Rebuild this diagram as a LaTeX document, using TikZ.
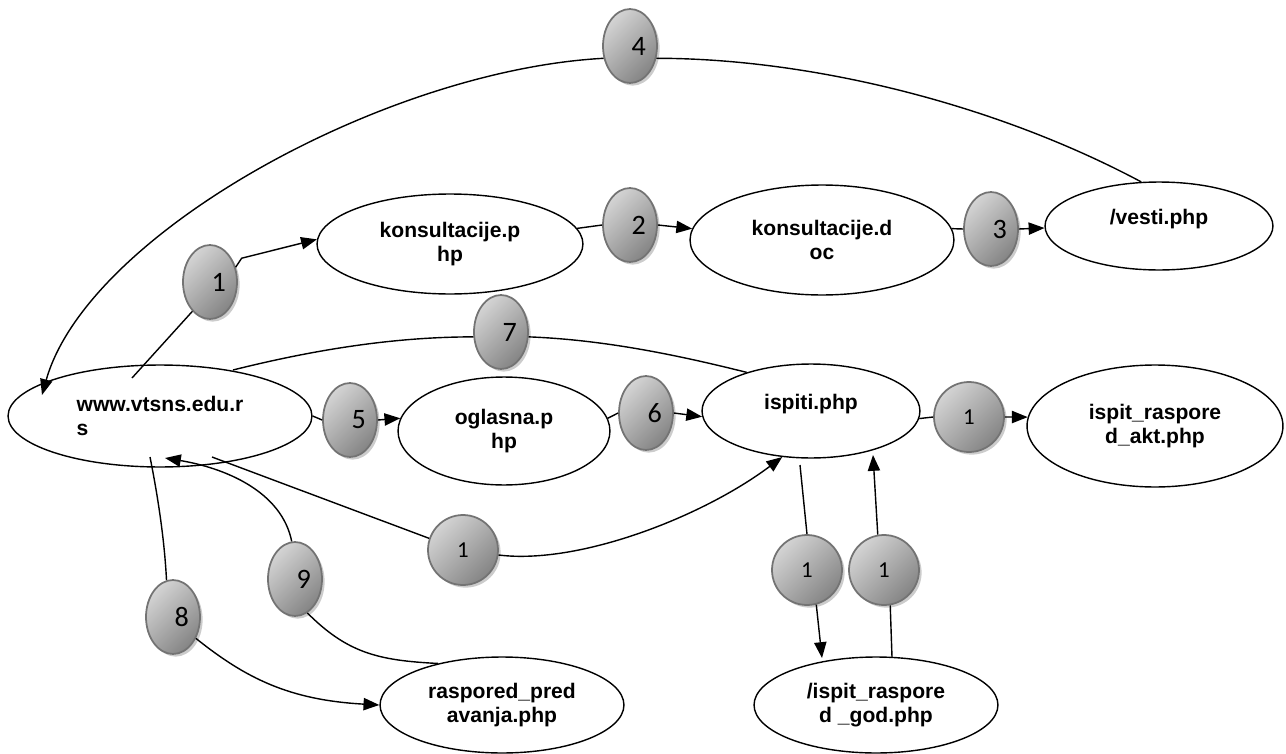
\documentclass[tikz,border=0pt]{standalone}
\usepackage{fontspec}
\setmainfont{Liberation Sans}
\newfontfamily\badgefont{Carlito}
\usetikzlibrary{arrows.meta,shapes.geometric,shadows}

\begin{document}
\begin{tikzpicture}[x=0.02cm, y=-0.02cm, >={Triangle[length=9pt,width=7pt]}, line join=round, line width=0.8pt]
	\tikzset{
		page/.style 2 args={ellipse, draw, inner sep=0pt, minimum width=#1*0.04cm, minimum height=#2*0.04cm, align=center, font=\bfseries\fontsize{12}{14}\selectfont},
		badge/.style={ellipse, draw=black!55, line width=1pt, top color=black!17, bottom color=black!48, shading angle=45, drop shadow={shadow xshift=1.5pt, shadow yshift=-1.5pt, fill=black!20, opacity=1}, inner sep=0pt, minimum width=1.08cm, minimum height=1.48cm, font=\badgefont\fontsize{16}{16}\selectfont},
		roundbadge/.style={badge, circle, minimum size=1.4cm, font=\badgefont\fontsize{13}{13}\selectfont}
	}
	\useasboundingbox (0,0) rectangle (1286,754);
	\node [page={152}{51}, align=left] (www) at (160,416) {www.vtsns.edu.r\\s};
	\node [page={133}{50}] (kphp) at (450,244) {konsultacije.p\\hp};
	\node [page={132}{55}] (kdoc) at (822,240) {konsultacije.d\\oc};
	\node [page={114}{44}, text depth=10pt] (vesti) at (1159,226) {/vesti.php};
	\node [page={106}{54}] (og) at (504,431) {oglasna.p\\hp};
	\node [page={109}{47}, text depth=10pt] (isp) at (811,411) {ispiti.php};
	\node [page={128}{61}] (akt) at (1155,426) {ispit\_raspore\\d\_akt.php};
	\node [page={122}{48}] (god) at (876,705) {/ispit\_raspore\\d \_god.php};
	\node [page={122}{48}] (rasp) at (502,705) {raspored\_pred\\avanja.php};
	\foreach \n/\x/\y/\t in {b4/630/46/4, b1/210/282/1, b2/630/225/2, b3/991/229/3, b5/350/420/5, b6/646/413/6, b7/501/332/7, b8/173/617/8, b9/295/579/9}{
		\node [badge] (\n) at (\x,\y) {\hspace*{10pt}\t};
	}
	\foreach \n/\x/\y in {bakt/969/417, blow/463/550, bv1/807/570, bv2/884/570}{
		\node [roundbadge] (\n) at (\x,\y) {1};
	}
	\foreach \a/\b/\c in {kphp.7/b2/kdoc.175, kdoc.5/b3/vesti.181, www.east/b5/og.173, og.7/b6/isp.183, isp.356/bakt/akt.176}{
		\draw (\a) -- (\b.west);
		\draw [->] (\b.east) -- (\c);
	}
	\draw ([shift={(-28,-38)}]www.center) -- (b1.239);
	\draw [->] (b1.30) -- ++(6,-9) -- (kphp.178);
	\draw (vesti.112) .. controls +(-150,-80) and +(150,0) .. (b4.335);
	\draw [->] (b4.205) .. controls +(-220,12) and +(45,-160) .. ([shift={(-118,-21)}]www.center);
	\draw ([shift={(73,-46)}]www.center) .. controls +(80,-20) and +(-80,0) .. (b7.190);
	\draw (b7.350) .. controls +(80,3) and +(-60,-15) .. (isp.149);
	\draw ([shift={(52,41)}]www.center) -- (blow.161);
	\draw [->] (blow.352) .. controls +(80,10) and +(-80,60) .. (isp.238);
	\draw ([shift={(-10,41)}]www.center) .. controls +(8,40) and +(-2,-40) .. (b8.100);
	\draw [->] (b8.317) .. controls +(50,40) and +(-90,-5) .. (rasp.west);
	\draw (rasp.147) .. controls +(-60,-3) and +(40,40) .. (b9.290);
	\draw [->] (b9.95) .. controls +(-10,-50) and +(60,10) .. ([shift={(5,42)}]www.center);
	\draw ([shift={(-11,54)}]isp.center) -- (bv1.north);
	\draw [->] (bv1.285) -- ([shift={(-54,-47)}]god.center);
	\draw ([shift={(16,-48)}]god.center) -- (bv2.280);
	\draw [->] (bv2.100) -- ([shift={(62,44)}]isp.center);
\end{tikzpicture}
\end{document}
